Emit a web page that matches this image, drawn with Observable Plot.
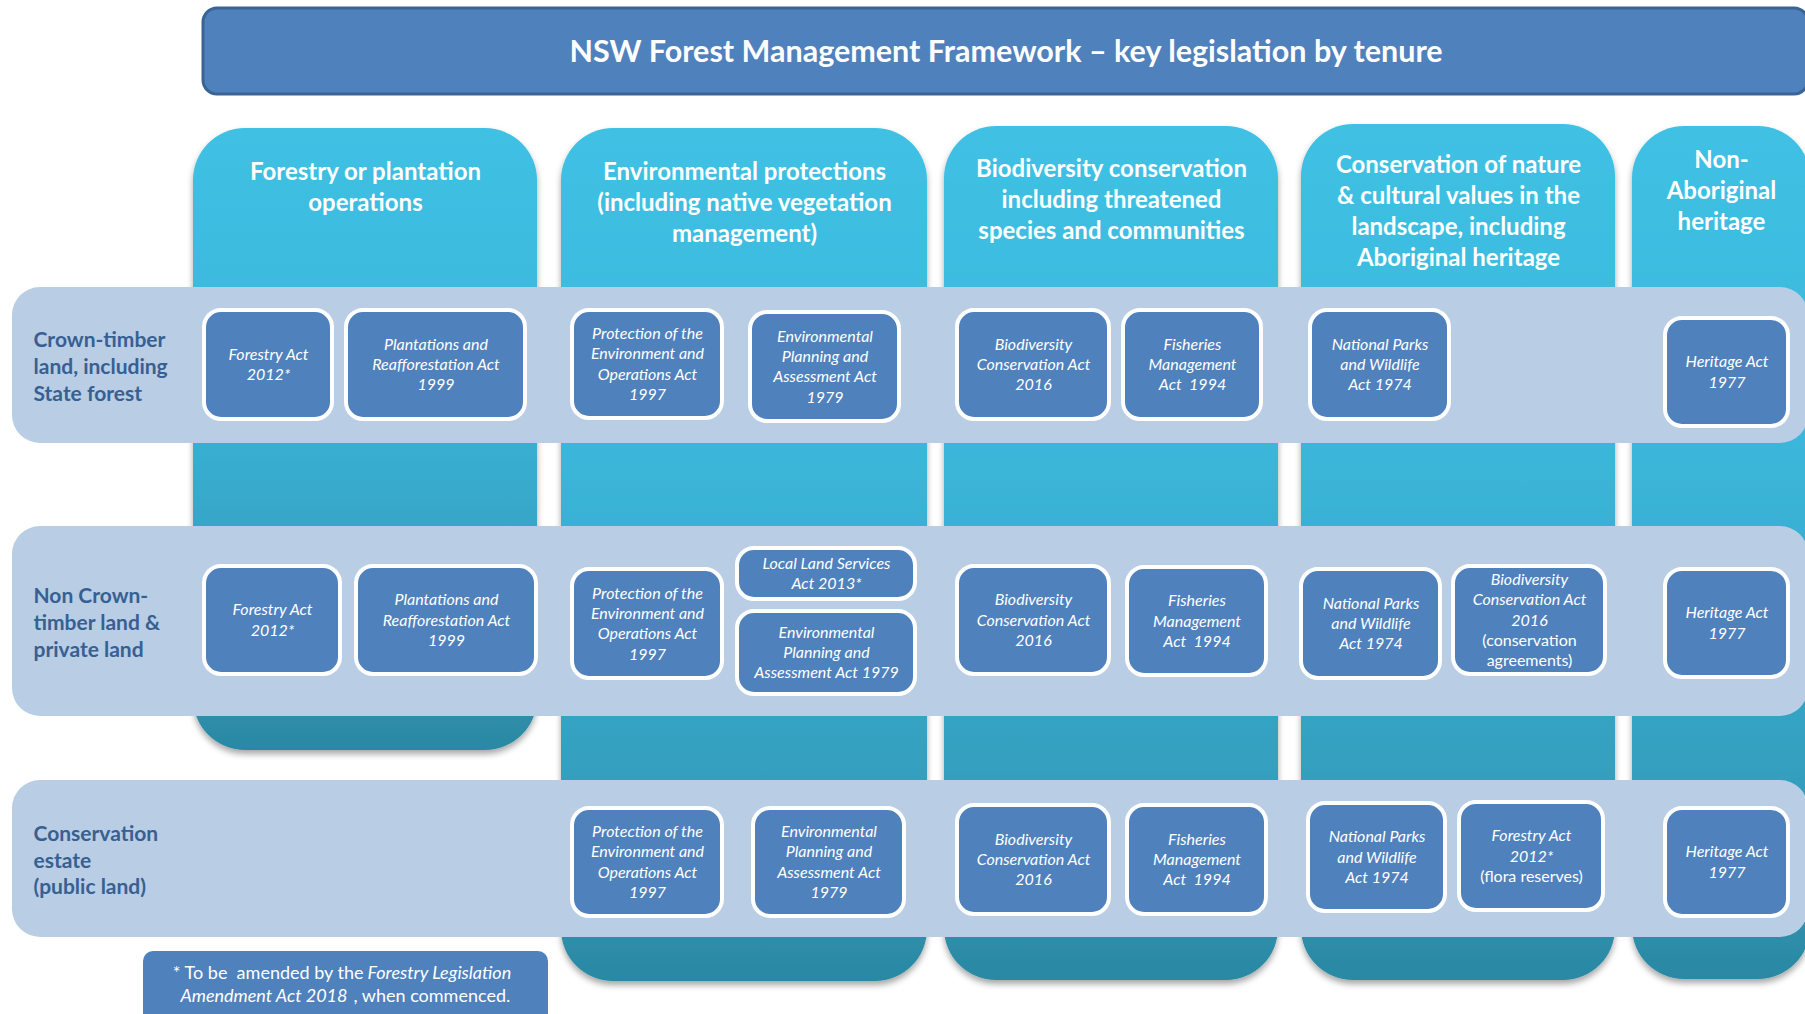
<!DOCTYPE html>
<html>
<head>
<meta charset="utf-8">
<script src="https://cdn.jsdelivr.net/npm/d3@7"></script>
<script src="https://cdn.jsdelivr.net/npm/@observablehq/plot@0.6"></script>
<style>
html, body { margin: 0; padding: 0; background: #fff; overflow: hidden; }
#chart { width: 1805px; height: 1014px; overflow: hidden; }
</style>
</head>
<body>
<div id="chart"></div>
<script>
// ---------- DATA ----------
const title = "NSW Forest Management Framework – key legislation by tenure";

const columns = [
  "Forestry or plantation\noperations",
  "Environmental protections\n(including native vegetation\nmanagement)",
  "Biodiversity conservation\nincluding threatened\nspecies and communities",
  "Conservation of nature\n& cultural values in the\nlandscape, including\nAboriginal heritage",
  "Non-\nAboriginal\nheritage"
];

const tenures = [
  "Crown-timber\nland, including\nState forest",
  "Non Crown-\ntimber land &\nprivate land",
  "Conservation\nestate\n(public land)"
];

const actNames = [
  // Crown-timber land
  "Forestry Act\n2012*",
  "Plantations and\nReafforestation Act\n1999",
  "Protection of the\nEnvironment and\nOperations Act\n1997",
  "Environmental\nPlanning and\nAssessment Act\n1979",
  "Biodiversity\nConservation Act\n2016",
  "Fisheries\nManagement\nAct  1994",
  "National Parks\nand Wildlife\nAct 1974",
  "Heritage Act\n1977",
  // Non Crown-timber land & private land
  "Forestry Act\n2012*",
  "Plantations and\nReafforestation Act\n1999",
  "Protection of the\nEnvironment and\nOperations Act\n1997",
  "Local Land Services\nAct 2013*",
  "Environmental\nPlanning and\nAssessment Act 1979",
  "Biodiversity\nConservation Act\n2016",
  "Fisheries\nManagement\nAct  1994",
  "National Parks\nand Wildlife\nAct 1974",
  "Biodiversity\nConservation Act\n2016",
  "Heritage Act\n1977",
  // Conservation estate
  "Protection of the\nEnvironment and\nOperations Act\n1997",
  "Environmental\nPlanning and\nAssessment Act\n1979",
  "Biodiversity\nConservation Act\n2016",
  "Fisheries\nManagement\nAct  1994",
  "National Parks\nand Wildlife\nAct 1974",
  "Forestry Act\n2012*",
  "Heritage Act\n1977"
];

const actNotes = [
  "", "", "", "", "", "", "", "",
  "", "", "", "", "", "", "", "", "(conservation\nagreements)", "",
  "", "", "", "", "", "(flora reserves)", ""
];

const actColumn = [0,0,1,1,2,2,3,4, 0,0,1,1,1,2,2,3,3,4, 1,1,2,2,3,3,4];
const actTenure = [0,0,0,0,0,0,0,0, 1,1,1,1,1,1,1,1,1,1, 2,2,2,2,2,2,2];

const footLine1 = ["* To be  amended by the", "Forestry Legislation"];
const footLine2 = ["Amendment Act 2018", ", when commenced."];

// ---------- LAYOUT (diagram units = pixels) ----------
const layout = {
  titleBox: [203, 1808, 8, 94],
  columns: [[193,537,128,750],[561,927,128,981],[944,1278,126,980],[1301,1615,124,980],[1632,1810,126,979]],
  headerTops: [158, 158, 155, 151, 146],
  bands: [[12,1808,287,443],[12,1808,526,716],[12,1808,780,937]],
  labelX: 33,
  acts: [
    [202,334,308,421],[344,527,308,421],[570,724,308,420],[748,901,310,423],
    [955,1111,308,421],[1121,1263,308,421],[1308,1451,308,421],[1663,1790,316,428],
    [202,342,564,676],[354,538,564,676],[570,724,567,680],[735,917,546,601],
    [735,917,609,696],[955,1111,564,676],[1125,1268,565,677],[1299,1442,567,680],
    [1451,1607,564,676],[1663,1790,567,679],
    [570,724,806,918],[751,906,806,918],[955,1111,803,916],[1125,1268,803,916],
    [1306,1447,801,913],[1457,1605,800,912],[1663,1790,806,918]
  ],
  footBox: [143, 548, 951, 1040],
  foot1: {split: 365, y: 973},
  foot2: {split: 349, y: 996}
};

const ACT_LH = 20.3;
const BLUE = "#4F81BD";
const LABEL = "#376092";

// ---------- derived tables ----------
const colTable = columns.map((c, i) => {
  const [x1, x2, y1, y2] = layout.columns[i];
  return {label: c, x1, x2, y1, y2, cx: (x1 + x2) / 2, top: layout.headerTops[i]};
});
const bandTable = tenures.map((t, i) => {
  const [x1, x2, y1, y2] = layout.bands[i];
  return {label: t, x1, x2, y1, y2, cy: (y1 + y2) / 2};
});
const actTable = actNames.map((name, i) => {
  const [x1, x2, y1, y2] = layout.acts[i];
  return {name, note: actNotes[i], col: actColumn[i], row: actTenure[i], x1: x1 + 2, x2: x2 - 2, y1: y1 + 2, y2: y2 - 2, cx: (x1 + x2) / 2, cy: (y1 + y2) / 2};
});
const actLines = [];
actTable.forEach(a => {
  const lines = a.name.split("\n").map(t => ({t, italic: true}))
    .concat(a.note ? a.note.split("\n").map(t => ({t, italic: false})) : []);
  const n = lines.length;
  lines.forEach((l, j) => actLines.push({text: l.t, italic: l.italic, x: a.cx, y: a.cy + (j - (n - 1) / 2) * ACT_LH}));
});
const titleTable = [{label: title, x1: layout.titleBox[0], x2: layout.titleBox[1], y1: layout.titleBox[2], y2: layout.titleBox[3]}];
const footBoxTable = [{x1: layout.footBox[0], x2: layout.footBox[1], y1: layout.footBox[2], y2: layout.footBox[3]}];

// ---------- PLOT ----------
const svg = Plot.plot({
  width: 1805,
  height: 1014,
  margin: 0,
  x: {domain: [0, 1805], range: [0, 1805], axis: null},
  y: {domain: [0, 1014], range: [0, 1014], axis: null},
  style: {fontFamily: "Lato, 'Open Sans', sans-serif", background: "white", overflow: "hidden"},
  marks: [
    // title box
    Plot.rect(titleTable, {x1: "x1", x2: "x2", y1: "y1", y2: "y2", fill: BLUE, stroke: "#3A6496", strokeWidth: 3, rx: 14}),
    Plot.text(titleTable, {x: d => (d.x1 + d.x2) / 2, y: d => (d.y1 + d.y2) / 2 + 1, text: "label", fill: "white", fontSize: 30.5, fontWeight: "bold"}),
    // columns
    Plot.rect(colTable, {x1: "x1", x2: "x2", y1: "y1", y2: "y2", fill: "url(#colGrad)", rx: 52}),
    Plot.text(colTable, {x: "cx", y: "top", text: "label", lineAnchor: "top", fill: "white", fontSize: 24, fontWeight: "bold", lineHeight: 1.29}),
    // tenure bands
    Plot.rect(bandTable, {x1: "x1", x2: "x2", y1: "y1", y2: "y2", fill: "#B9CDE5", rx: 28}),
    Plot.text(bandTable, {x: () => layout.labelX, y: "cy", text: "label", textAnchor: "start", fill: LABEL, fontSize: 21, fontWeight: "bold", lineHeight: 1.27}),
    // act boxes
    Plot.rect(actTable, {x1: "x1", x2: "x2", y1: "y1", y2: "y2", fill: BLUE, stroke: "white", strokeWidth: 4, rx: 17}),
    Plot.text(actLines.filter(d => d.italic), {x: "x", y: "y", text: "text", fill: "white", fontSize: 16, fontStyle: "italic"}),
    Plot.text(actLines.filter(d => !d.italic), {x: "x", y: "y", text: "text", fill: "white", fontSize: 16}),
    // footnote
    Plot.rect(footBoxTable, {x1: "x1", x2: "x2", y1: "y1", y2: "y2", fill: BLUE, rx: 10}),
    Plot.text([footLine1[0]], {x: () => layout.foot1.split - 2, y: () => layout.foot1.y, text: d => d, textAnchor: "end", fill: "white", fontSize: 18}),
    Plot.text([footLine1[1]], {x: () => layout.foot1.split + 2, y: () => layout.foot1.y, text: d => d, textAnchor: "start", fill: "white", fontSize: 18, fontStyle: "italic"}),
    Plot.text([footLine2[0]], {x: () => layout.foot2.split - 2, y: () => layout.foot2.y, text: d => d, textAnchor: "end", fill: "white", fontSize: 18, fontStyle: "italic"}),
    Plot.text([footLine2[1]], {x: () => layout.foot2.split + 4, y: () => layout.foot2.y, text: d => d, textAnchor: "start", fill: "white", fontSize: 18})
  ]
});

// gradient + shadow definitions
const defs = d3.select(svg).insert("defs", ":first-child");
const g = defs.append("linearGradient").attr("id", "colGrad").attr("x1", 0).attr("y1", 0).attr("x2", 0).attr("y2", 1);
[[0, "#3FC1E4"], [0.35, "#3BB8DC"], [0.6, "#37A9CB"], [0.85, "#3299B7"], [1, "#2B88A3"]]
  .forEach(([o, c]) => g.append("stop").attr("offset", o).attr("stop-color", c));
const f = defs.append("filter").attr("id", "shadow").attr("x", "-10%").attr("y", "-10%").attr("width", "120%").attr("height", "125%");
f.append("feDropShadow").attr("dx", 0).attr("dy", 4).attr("stdDeviation", 3).attr("flood-color", "#000").attr("flood-opacity", 0.35);
svg.querySelectorAll('[fill="url(#colGrad)"]').forEach(e => e.setAttribute("filter", "url(#shadow)"));

document.getElementById("chart").appendChild(svg);
</script>
</body>
</html>
